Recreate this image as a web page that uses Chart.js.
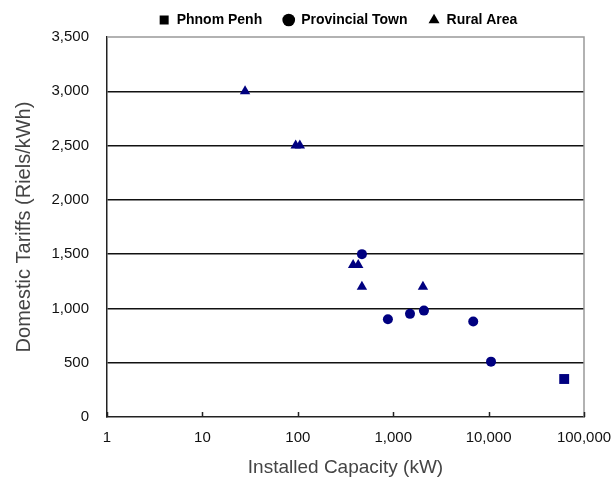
<!DOCTYPE html>
<html>
<head>
<meta charset="utf-8">
<script src="https://cdn.jsdelivr.net/npm/chart.js@4/dist/chart.umd.min.js"></script>
<style>
  html, body { margin: 0; padding: 0; background: #fff; }
  #wrap { width: 612px; height: 483px; }
</style>
</head>
<body>
<div id="wrap"><canvas id="myChart" width="612" height="483"></canvas></div>
<script>
// installed capacity (kW) vs domestic tariff (Riels/kWh)
const phnomPenhX = [62000];
const phnomPenhY = [350];
const provincialX = [470, 880, 1500, 2100, 6900, 10600];
const provincialY = [1500, 900, 950, 980, 880, 510];
const ruralX = [28, 95, 105, 380, 430, 470, 2050];
const ruralY = [3000, 2500, 2500, 1400, 1400, 1200, 1200];
const xTicks = [1, 10, 100, 1000, 10000, 100000];

const navy = '#000080';
const toPoints = (xs, ys) => xs.map((x, i) => ({x: x, y: ys[i]}));

// small inward tick marks on the x axis + gray top/right frame
const frame = {
  id: 'frame',
  afterLayout(chart) {
    // legend sits right of centre in the original
    chart.legend.left += 46;
    chart.legend.right += 46;
  },
  afterDraw(chart) {
    const c = chart.ctx, a = chart.chartArea, xs = chart.scales.x;
    c.save();
    c.strokeStyle = '#999';
    c.lineWidth = 1.5;
    c.beginPath();
    c.moveTo(a.left, a.top);
    c.lineTo(a.right, a.top);
    c.lineTo(a.right, a.bottom);
    c.stroke();
    c.strokeStyle = '#222';
    c.beginPath();
    xTicks.forEach(v => {
      const px = Math.round(xs.getPixelForValue(v)) + 0.5;
      c.moveTo(px, a.bottom);
      c.lineTo(px, a.bottom - 5);
    });
    c.stroke();
    c.restore();
  }
};

const ctx = document.getElementById('myChart');
const myChart = new Chart(ctx, {
  type: 'scatter',
  data: {
    datasets: [{
      label: 'Phnom Penh',
      data: toPoints(phnomPenhX, phnomPenhY),
      pointStyle: 'rect',
      pointRadius: 7,
      backgroundColor: navy,
      borderColor: navy,
      borderWidth: 0
    }, {
      label: 'Provincial Town',
      data: toPoints(provincialX, provincialY),
      pointStyle: 'circle',
      pointRadius: 5,
      backgroundColor: navy,
      borderColor: navy,
      borderWidth: 0
    }, {
      label: 'Rural Area',
      data: toPoints(ruralX, ruralY),
      pointStyle: 'triangle',
      pointRadius: 6,
      backgroundColor: navy,
      borderColor: navy,
      borderWidth: 0
    }]
  },
  options: {
    responsive: false,
    animation: false,
    layout: { padding: { top: -8, right: 28, left: 0, bottom: 0 } },
    plugins: {
      tooltip: { enabled: false },
      legend: {
        position: 'top',
        align: 'center',
        labels: {
          usePointStyle: true,
          boxWidth: 11,
          boxHeight: 9,
          padding: 21,
          color: '#000',
          font: { family: 'Liberation Sans, Arial', size: 14, weight: 'bold' },
          generateLabels(chart) {
            return chart.data.datasets.map((ds, i) => ({
              text: ds.label,
              fillStyle: '#000',
              strokeStyle: '#000',
              lineWidth: 0,
              pointStyle: ds.pointStyle,
              datasetIndex: i,
              hidden: false
            }));
          }
        }
      }
    },
    scales: {
      x: {
        type: 'logarithmic',
        min: 1,
        max: 100000,
        afterBuildTicks(scale) {
          scale.ticks = xTicks.map(v => ({value: v, major: true}));
        },
        afterFit(scale) { scale.height = 66; scale.paddingRight = 0; },
        ticks: {
          color: '#111',
          padding: 12,
          maxRotation: 0,
          autoSkip: false,
          font: { family: 'Liberation Sans, Arial', size: 15 },
          callback: v => Number(v).toLocaleString('en-US')
        },
        grid: { display: false, drawTicks: false },
        border: { display: true, color: '#222', width: 1.5 },
        title: {
          display: true,
          text: 'Installed Capacity (kW)',
          color: '#444',
          font: { family: 'Liberation Sans, Arial', size: 19 },
          padding: { top: 4, bottom: 4 }
        }
      },
      y: {
        min: 0,
        max: 3500,
        afterFit(scale) { scale.width = 107; },
        ticks: {
          stepSize: 500,
          color: '#111',
          padding: 18,
          font: { family: 'Liberation Sans, Arial', size: 15 },
          callback: v => Number(v).toLocaleString('en-US')
        },
        grid: {
          drawTicks: false,
          color: c => (c.tick && (c.tick.value === 0 || c.tick.value === 3500)) ? 'rgba(0,0,0,0)' : '#111',
          lineWidth: 1.5
        },
        border: { display: true, color: '#222', width: 1.5 },
        title: {
          display: true,
          text: 'Domestic Tariffs (Riels/kWh)',
          color: '#444',
          font: { family: 'Liberation Sans, Arial', size: 20 },
          padding: { top: 12, bottom: 4 }
        }
      }
    }
  },
  plugins: [frame]
});
</script>
</body>
</html>
